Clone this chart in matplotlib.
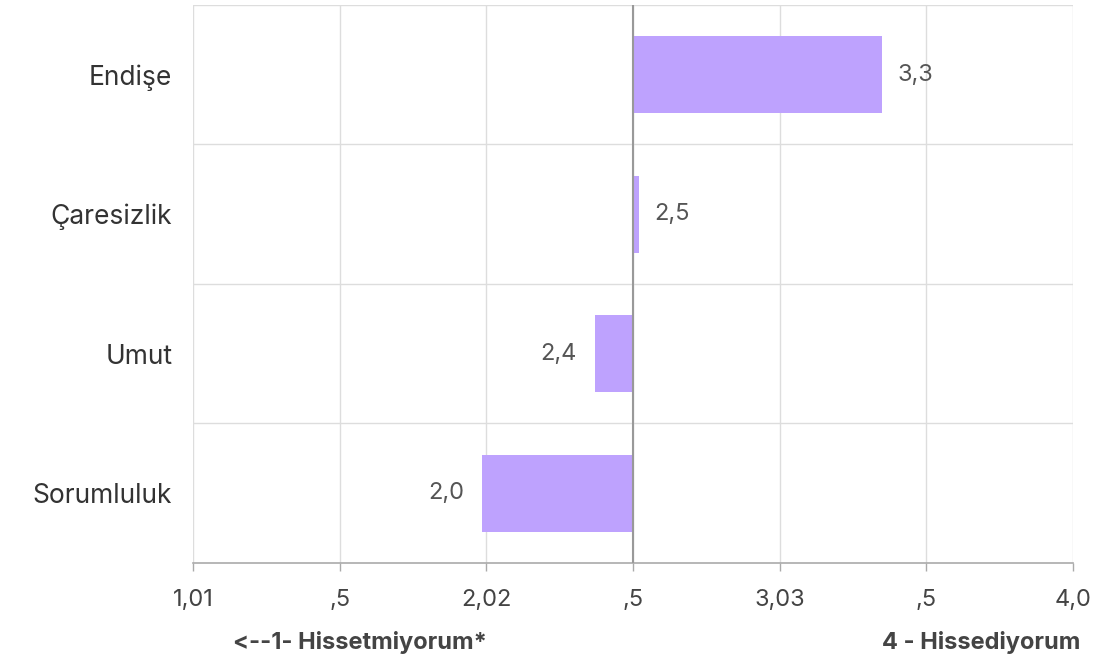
import matplotlib.pyplot as plt

# Data
categories = ["Endişe", "Çaresizlik", "Umut", "Sorumluluk"]
values = [3.35, 2.52, 2.37, 1.985]
value_labels = ["3,3", "2,5", "2,4", "2,0"]
xticks = [1.0, 1.5, 2.0, 2.5, 3.0, 3.5, 4.0]
xtick_labels = ["1,01", ",5", "2,02", ",5", "3,03", ",5", "4,0"]
midpoint = 2.5

plt.rcParams['font.family'] = ['Inter', 'DejaVu Sans']

fig = plt.figure(figsize=(11.18, 6.66), dpi=100)
ax = fig.add_axes([0.1726, 0.1547, 0.7871, 0.8378])

ypos = list(range(len(categories)))
widths = [v - midpoint for v in values]
ax.barh(ypos, widths, left=midpoint, height=0.55, color='#BEA2FE', zorder=3)

for y, v, lab in zip(ypos, values, value_labels):
    if v >= midpoint:
        ax.annotate(lab, (v, y), xytext=(11, 0), textcoords='offset points',
                    ha='left', va='center', fontsize=17, color='#555555')
    else:
        ax.annotate(lab, (v, y), xytext=(-13, 0), textcoords='offset points',
                    ha='right', va='center', fontsize=17, color='#555555')

ax.set_xlim(1.0, 4.0)
ax.set_ylim(3.5, -0.5)
ax.set_xticks(xticks)
ax.set_xticklabels(xtick_labels, fontsize=17, color='#444444')
ax.set_yticks(ypos)
ax.set_yticklabels(categories, fontsize=19, color='#333333')
ax.tick_params(axis='y', length=0, pad=15)
ax.tick_params(axis='x', length=6, width=1, color='#AAAAAA', pad=13)

# grid: vertical at ticks, horizontal at category boundaries
for x in xticks:
    ax.axvline(x, color='#DDDDDD', lw=1, zorder=1)
for b in [-0.5, 0.5, 1.5, 2.5]:
    ax.axhline(b, color='#DDDDDD', lw=1, zorder=1)
ax.axvline(midpoint, color='#999999', lw=1.5, zorder=4)

for s in ['top', 'left', 'right']:
    ax.spines[s].set_visible(False)
ax.spines['bottom'].set_color('#AAAAAA')
ax.spines['bottom'].set_linewidth(1.2)

fig.text(233 / 1118, 1 - 642 / 666, "<--1- Hissetmiyorum*", fontsize=17,
         fontweight='bold', color='#444444', ha='left', va='center')
fig.text(1080 / 1118, 1 - 642 / 666, "4 - Hissediyorum", fontsize=17,
         fontweight='bold', color='#444444', ha='right', va='center')

fig.savefig("out.png", dpi=100)
